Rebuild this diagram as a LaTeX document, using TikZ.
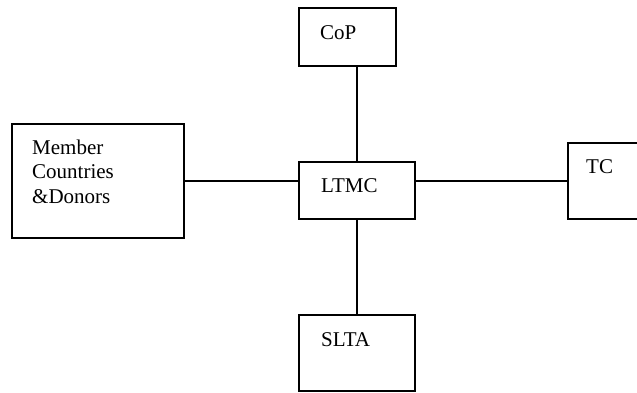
\documentclass[tikz,border=0pt]{standalone}
\usepackage{fontspec}
\setmainfont{Liberation Serif}
\usepackage{tikz}
\usetikzlibrary{calc,positioning}
\tikzset{
  orgbox/.style={
    draw=black, line width=1.8pt,
    inner sep=0pt, outer sep=0pt
  },
  orglabel/.style={
    anchor=base west, inner sep=0pt,
    font=\fontsize{21}{24.5}\selectfont, align=left
  },
  orglink/.style={draw=black, line width=1.2pt}
}

\begin{document}
\begin{tikzpicture}[x=1pt, y=-1pt, line cap=butt, line join=miter]
  \useasboundingbox (0,0) rectangle (637,392);
  \clip (0,0) rectangle (637,392);

  % boxes
  \node[orgbox, minimum width=97pt, minimum height=58pt] (CoP) at (347.5,37) {};
  \node[orgbox, minimum width=172pt, minimum height=114pt] (Member) at (98,181) {};
  \node[orgbox, minimum width=116pt, minimum height=57pt] (LTMC) at (357,190.5) {};
  \node[orgbox, minimum width=100pt, minimum height=76pt] (TC) at (618,181) {};
  \node[orgbox, minimum width=116pt, minimum height=76pt] (SLTA) at (357,353) {};

  % connectors
  \draw[orglink] (LTMC.north |- CoP.south) -- (LTMC.north);
  \draw[orglink] (LTMC.south) -- (SLTA.north);
  \draw[orglink] (Member.east) -- (Member.east -| LTMC.west);
  \draw[orglink] (TC.west -| LTMC.east) -- (TC.west);

  % labels (base of a multi-line label is its last line)
  \node[orglabel] (CoPtext) at (320,39) {CoP};
  \node[orglabel] (Membertext) at (32,203) {Member\\Countries\\\&Donors};
  \node[orglabel] (LTMCtext) at (321,192) {LTMC};
  \node[orglabel] (TCtext) at (586,173) {TC};
  \node[orglabel] (SLTAtext) at (321,346) {SLTA};
\end{tikzpicture}
\end{document}
